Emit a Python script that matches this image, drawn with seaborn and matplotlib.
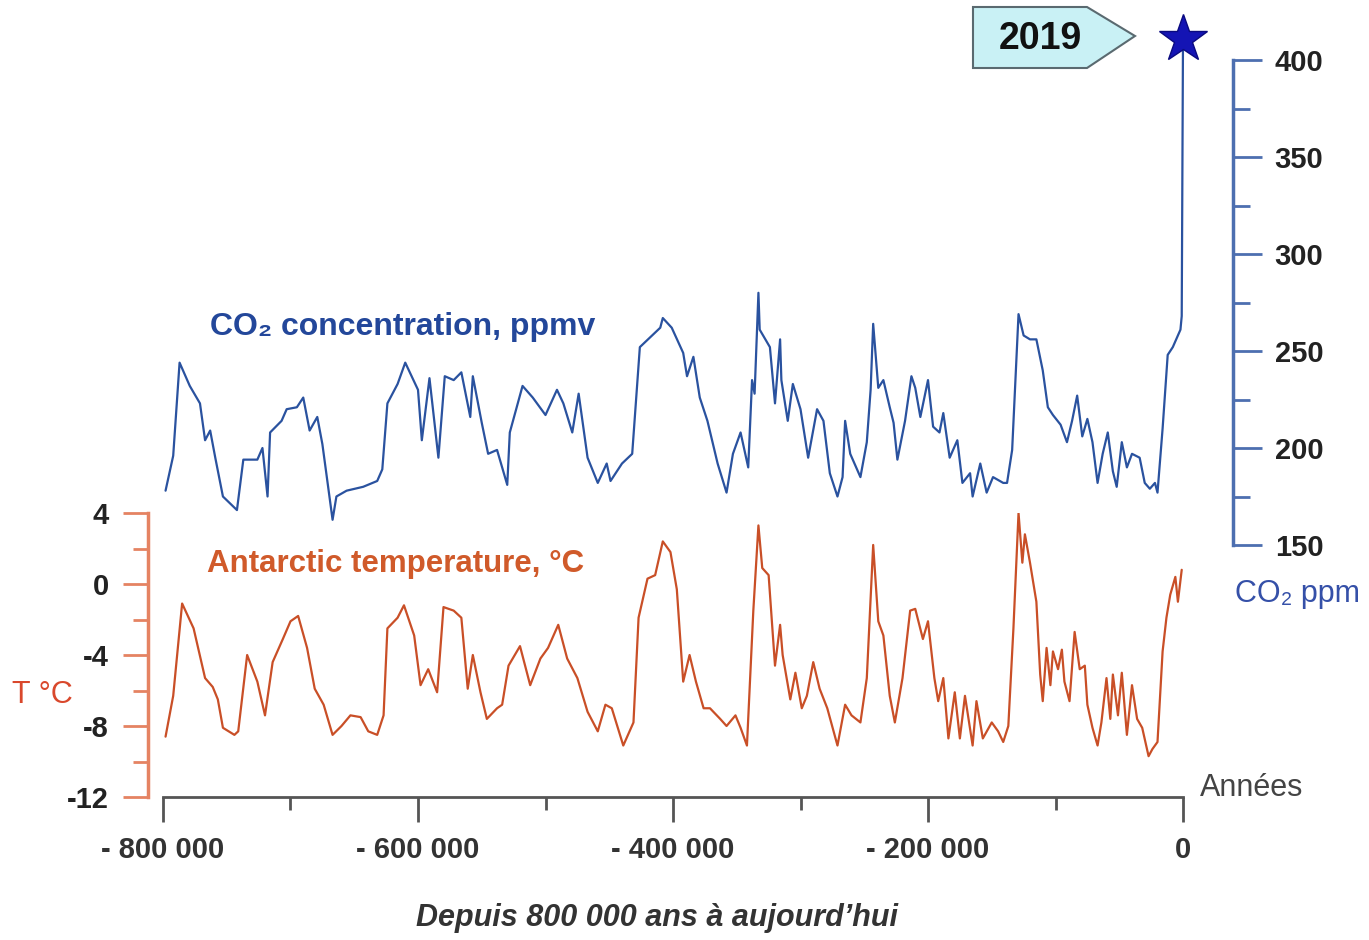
import matplotlib
matplotlib.use("Agg")
import matplotlib.pyplot as plt
from matplotlib.patches import Polygon
import seaborn as sns
import pandas as pd

# --- data (years in thousands before present) ---
co2_kyr = [-798, -792, -787, -779, -771, -767, -763, -759, -753, -742, -737, -726, -722, -718,
           -716, -707, -703, -695, -690, -685, -679, -675, -667, -664, -656, -643, -632, -628,
           -624, -616, -610, -600, -597, -591, -584, -579, -572, -566, -559, -557, -550, -545,
           -538, -530, -528, -518, -510, -500, -491, -486, -479, -474, -467, -459, -452, -449,
           -440, -432, -426, -418, -410, -408, -401, -392, -389, -384, -379, -373, -365, -358,
           -353, -347, -341, -338, -336, -333, -332, -324, -320, -316, -315, -310, -306, -300,
           -294, -287, -282, -277, -271, -267, -265, -261, -253, -248, -245, -243, -239, -235,
           -230, -227, -224, -218, -213, -210, -206, -200, -196, -191, -188, -183, -177, -173,
           -167, -165, -159, -154, -149, -141, -138, -134, -129, -125, -120, -115, -110, -106,
           -102, -96, -91, -87, -83, -79, -75, -71, -67, -63, -59, -55, -52, -48, -44, -40,
           -34, -30, -26, -22, -20, -16, -12, -8, -2, -1, 0]
co2_ppm = [178, 196, 244, 232, 223, 204, 209, 195, 175, 168, 194, 194, 200, 175,
           208, 214, 220, 221, 226, 209, 216, 202, 163, 175, 178, 180, 183, 189,
           223, 233, 244, 230, 204, 236, 195, 237, 235, 239, 216, 237, 213, 197,
           199, 181, 208, 232, 226, 217, 230, 223, 208, 228, 195, 182, 192, 183,
           192, 197, 252, 257, 262, 267, 262, 249, 237, 247, 226, 214, 192, 177,
           197, 208, 190, 235, 228, 280, 261, 252, 223, 256, 235, 214, 233, 220,
           195, 220, 214, 187, 175, 185, 214, 197, 185, 203, 230, 264, 231, 235,
           221, 213, 194, 214, 237, 231, 216, 235, 211, 208, 218, 195, 204, 182,
           187, 175, 192, 177, 185, 182, 182, 199, 269, 258, 256, 256, 240, 221,
           217, 212, 203, 214, 227, 206, 215, 203, 182, 197, 208, 188, 180, 203, 190, 197,
           195, 182, 179, 182, 177, 210, 248, 252, 261, 268, 411]

temp_kyr = [-798, -792, -785, -776, -767, -761, -757, -753, -744, -741, -734, -726, -720, -714,
            -706, -700, -694, -687, -681, -674, -667, -660, -653, -645, -639, -632, -627, -624,
            -616, -611, -603, -598, -592, -585, -580, -572, -566, -561, -557, -551, -546, -538,
            -534, -529, -520, -512, -504, -498, -490, -483, -475, -467, -459, -453, -448, -439,
            -431, -427, -420, -414, -408, -402, -397, -392, -387, -382, -376, -371, -363, -358,
            -351, -347, -342, -337, -333, -330, -325, -320, -316, -314, -308, -304, -299, -295,
            -290, -285, -279, -271, -265, -260, -253, -248, -243, -239, -235, -230, -226, -220,
            -214, -210, -204, -200, -195, -192, -188, -184, -179, -175, -171, -165, -162, -157,
            -150, -145, -141, -137, -133, -129, -126, -124, -120,
            -115, -112, -110, -107, -104, -102, -98, -95, -93, -89, -85, -81, -77, -75, -71,
            -67, -64, -60, -57, -55, -51, -48, -44, -40, -36, -32, -27, -24, -20, -16, -13,
            -10, -6, -4, -1]
temp_c = [-8.6, -6.3, -1.1, -2.5, -5.3, -5.8, -6.5, -8.1, -8.5, -8.3, -4.0, -5.5, -7.4, -4.4,
          -3.1, -2.1, -1.8, -3.6, -5.9, -6.8, -8.5, -8.0, -7.4, -7.5, -8.3, -8.5, -7.4, -2.5,
          -1.9, -1.2, -2.9, -5.7, -4.8, -6.1, -1.3, -1.5, -1.9, -5.9, -4.0, -6.1, -7.6, -7.0,
          -6.8, -4.6, -3.5, -5.7, -4.2, -3.6, -2.3, -4.2, -5.3, -7.2, -8.3, -6.8, -7.0, -9.1,
          -7.8, -1.9, 0.3, 0.5, 2.4, 1.8, -0.3, -5.5, -4.0, -5.5, -7.0, -7.0, -7.6, -8.0,
          -7.4, -8.1, -9.1, -1.5, 3.3, 0.9, 0.5, -4.6, -2.3, -4.0, -6.5, -5.0, -7.0, -6.3,
          -4.4, -5.9, -7.0, -9.1, -6.8, -7.4, -7.8, -5.3, 2.2, -2.1, -2.9, -6.3, -7.8, -5.3,
          -1.5, -1.4, -3.1, -2.1, -5.3, -6.6, -5.3, -8.7, -6.1, -8.7, -6.3, -9.1, -6.6, -8.7,
          -7.8, -8.3, -8.9, -8.0, -2.5, 4.0, 1.2, 2.8, 1.2,
          -1.0, -5.1, -6.6, -3.6, -5.7, -3.8, -4.8, -3.7, -5.5, -6.6, -2.7, -4.8, -4.6, -6.8, -8.1,
          -9.1, -7.8, -5.3, -7.6, -5.1, -7.4, -5.0, -8.5, -5.7, -7.6, -8.1, -9.7, -9.3, -8.9, -3.8, -1.9,
          -0.6, 0.4, -1.0, 0.8]

x_ticks = [-800000, -600000, -400000, -200000, 0]
x_tick_labels = ["- 800 000", "- 600 000", "- 400 000", "- 200 000", "0"]
t_ticks = [4, 0, -4, -8, -12]
t_tick_labels = ["4", "0", "-4", "-8", "-12"]
co2_ticks = [400, 350, 300, 250, 200, 150]

CO2_COL = "#2a529f"
T_COL = "#c94f27"
T_AXIS = "#e58362"
CO2_AXIS = "#4d6fb0"

sns.set_style("white")
plt.rcParams["font.family"] = ["Liberation Sans", "DejaVu Sans"]

W, H = 1369, 940


def fx(px):
    return px / W


def fy(py):
    return 1 - py / H


fig = plt.figure(figsize=(W / 100, H / 100), dpi=100)

ax_t = fig.add_axes([fx(163), fy(797), fx(1183) - fx(163), fy(513) - fy(797)])
ax_c = fig.add_axes([fx(163), fy(545), fx(1183) - fx(163), fy(60) - fy(545)])
ax_c.patch.set_visible(False)

temp_df = pd.DataFrame({"year": [k * 1000 for k in temp_kyr], "temp": temp_c})
co2_df = pd.DataFrame({"year": [k * 1000 for k in co2_kyr], "ppm": co2_ppm})

# temperature
sns.lineplot(data=temp_df, x="year", y="temp", ax=ax_t, color=T_COL, linewidth=1.6)
ax_t.set_xlim(-800000, 0)
ax_t.set_ylim(-12, 4)
ax_t.set_xlabel("")
ax_t.set_ylabel("")
for s in ["top", "right"]:
    ax_t.spines[s].set_visible(False)
ax_t.spines["left"].set_position(("axes", -15 / 1020))
ax_t.spines["left"].set_color(T_AXIS)
ax_t.spines["left"].set_linewidth(2.5)
ax_t.spines["bottom"].set_color("#555555")
ax_t.spines["bottom"].set_linewidth(2)

ax_t.set_xticks(x_ticks, x_tick_labels)
ax_t.set_xticks([-700000, -500000, -300000, -100000], minor=True)
ax_t.set_yticks(t_ticks, t_tick_labels)
ax_t.set_yticks([2, -2, -6, -10], minor=True)
ax_t.tick_params(axis="x", which="both", bottom=True, top=False)
ax_t.tick_params(axis="y", which="both", left=True, right=False)
ax_t.tick_params(axis="x", which="major", direction="out", length=18, width=2,
                 color="#555555", pad=10, labelsize=21, labelcolor="#333333")
ax_t.tick_params(axis="x", which="minor", direction="out", length=9, width=2, color="#555555")
ax_t.tick_params(axis="y", which="major", direction="out", length=18, width=2,
                 color=T_AXIS, pad=10, labelsize=21, labelcolor="#222222")
ax_t.tick_params(axis="y", which="minor", direction="out", length=11, width=2, color=T_AXIS)
for lab in ax_t.get_xticklabels() + ax_t.get_yticklabels():
    lab.set_fontweight("bold")

# CO2
sns.lineplot(data=co2_df, x="year", y="ppm", ax=ax_c, color=CO2_COL, linewidth=1.6)
ax_c.lines[-1].set_clip_on(False)
ax_c.plot(co2_df["year"].iloc[-1], co2_df["ppm"].iloc[-1], marker="*", markersize=36,
          color="#1414b4", markeredgecolor="#0a0a80", markeredgewidth=1, clip_on=False)
ax_c.set_xlim(-800000, 0)
ax_c.set_ylim(150, 400)
ax_c.set_xlabel("")
ax_c.set_ylabel("")
for s in ["top", "left", "bottom"]:
    ax_c.spines[s].set_visible(False)
ax_c.spines["right"].set_position(("axes", 1 + 50 / 1020))
ax_c.spines["right"].set_color(CO2_AXIS)
ax_c.spines["right"].set_linewidth(2.5)
ax_c.set_xticks([])
ax_c.yaxis.tick_right()
ax_c.set_yticks(co2_ticks, [str(v) for v in co2_ticks])
ax_c.set_yticks([375, 325, 275, 225, 175], minor=True)
ax_c.tick_params(axis="y", which="both", right=True, left=False)
ax_c.tick_params(axis="y", which="major", direction="out", length=21, width=2,
                 color=CO2_AXIS, pad=9, labelsize=21, labelcolor="#222222")
ax_c.tick_params(axis="y", which="minor", direction="out", length=12, width=2, color=CO2_AXIS)
for lab in ax_c.get_yticklabels():
    lab.set_fontweight("bold")

# "2019" tag
tag = Polygon([(fx(973), fy(7)), (fx(1087), fy(7)), (fx(1135), fy(36)),
               (fx(1087), fy(68)), (fx(973), fy(68))],
              closed=True, transform=fig.transFigure, facecolor="#c9f1f5",
              edgecolor="#5a6a70", linewidth=1.5)
fig.patches.append(tag)
fig.text(fx(1040), fy(39), "2019", fontsize=27, fontweight="bold", color="#111111",
         ha="center", va="center")

# labels
fig.text(fx(210), fy(327), "CO₂ concentration, ppmv", fontsize=23, fontweight="bold",
         color="#23479a", ha="left", va="center")
fig.text(fx(207), fy(564), "Antarctic temperature, °C", fontsize=22.5, fontweight="bold",
         color="#d05a2a", ha="left", va="center")
fig.text(fx(12), fy(695), "T °C", fontsize=22, color="#d9482c", ha="left", va="center")
fig.text(fx(1235), fy(594), "CO₂ ppm", fontsize=22, color="#3550a8", ha="left", va="center")
fig.text(fx(1200), fy(788), "Années", fontsize=22, color="#444444", ha="left", va="center")
fig.text(fx(657), fy(918), "Depuis 800 000 ans à aujourd’hui", fontsize=22,
         fontweight="bold", fontstyle="italic", color="#333333", ha="center", va="center")

fig.savefig("out.png", dpi=100, facecolor="white")
